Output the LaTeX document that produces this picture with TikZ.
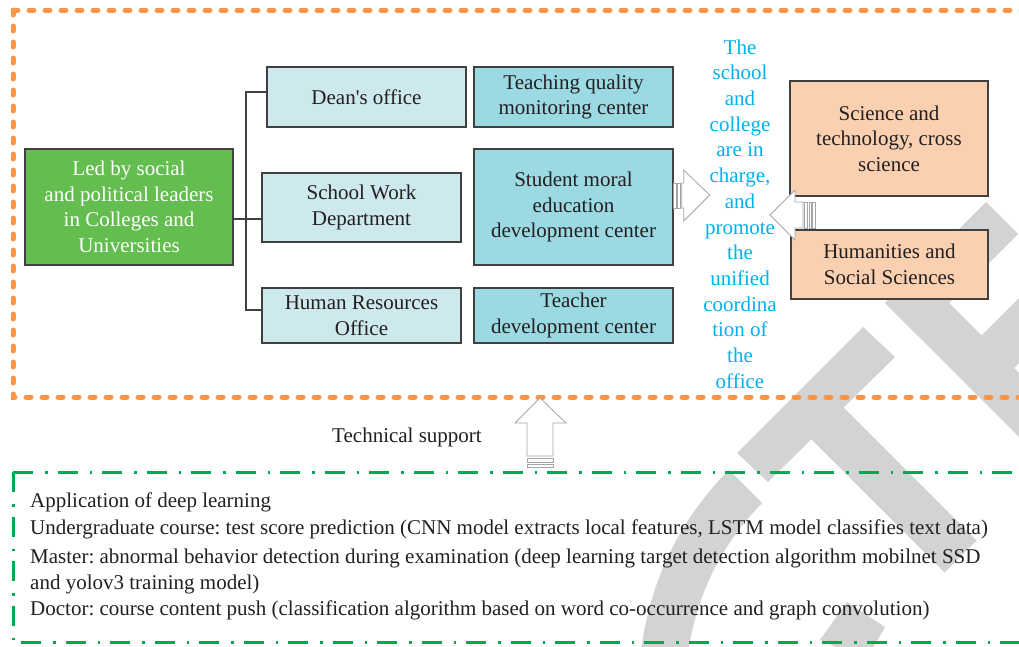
\documentclass[tikz,border=0pt]{standalone}
\usepackage{fontspec}
\setmainfont{Liberation Serif}
\newfontfamily\plainq{Liberation Serif}
\definecolor{orng}{RGB}{247,150,70}
\definecolor{grn}{RGB}{0,170,80}
\definecolor{gbox}{RGB}{99,189,79}
\definecolor{lcyan}{RGB}{205,233,238}
\definecolor{dcyan}{RGB}{155,217,227}
\definecolor{peach}{RGB}{251,208,176}
\definecolor{bluetxt}{RGB}{0,176,240}
\definecolor{txt}{RGB}{35,31,32}
\definecolor{bordc}{RGB}{64,64,64}
\definecolor{wm}{RGB}{211,211,211}
\definecolor{arrc}{RGB}{165,165,165}
\newcommand{\bxfont}{\fontsize{21}{25.5}\selectfont}
\frenchspacing
\begin{document}
\begin{tikzpicture}[x=1pt,y=-1pt,
  box/.style={draw=bordc, line width=1.4pt, align=center, inner sep=0pt, font=\bxfont, text=txt},
  conn/.style={draw=bordc, line width=1.3pt},
  harrow/.style={draw=arrc, fill=white, line width=0.8pt, line join=miter},
  plain/.style={font=\bxfont, text=txt, inner sep=0pt},
  gframe/.style={grn, line width=3pt, dash pattern=on 20pt off 12pt on 2.5pt off 10pt},
  oframe/.style={orng, line width=5pt, line cap=round, dash pattern=on 5pt off 11pt}]
\path[use as bounding box, clip] (0,0) rectangle (1019,646);
% watermark
\fill[wm] (946,687) ++(150:307) arc[start angle=150, end angle=225, radius=307] -- ++(45:47) arc[start angle=225, end angle=150, radius=260] -- cycle;
\fill[wm] (737,453) -- (863,327) -- (895,357) -- (768,482) -- cycle;
\fill[wm] (806,434) -- (838,402) -- (976.5,540.5) -- (944.5,572.5) -- cycle;
\fill[wm] (847,602) -- (885,627) -- (866,660) -- (820,640) -- cycle;
\fill[wm] (885,303) -- (986,202) -- (1018,234) -- (917,335) -- cycle;
\fill[wm] (885,303) -- (917,271) -- (1173,527) -- (1141,559) -- cycle;
\fill[wm] (950,367) -- (1043,274) -- (1076,306) -- (982,400) -- cycle;
% frames
\draw[oframe] (13,10) -- (13,397) -- (1040,397);
\draw[oframe] (13,10) -- (1040,10);
\draw[gframe] (13,472) -- (1040,472);
\draw[gframe] (13,472) -- (13,642) -- (1040,642);
% boxes
\node[box, fill=gbox, text=white, minimum width=208, minimum height=116] (lead) at (129,207) {Led by social\\and political leaders\\in Colleges and\\Universities};
\node[box, fill=lcyan, minimum width=199, minimum height=60] (dean) at (366.5,97) {Dean{\plainq '}s office};
\node[box, fill=lcyan, minimum width=199, minimum height=69] (school) at (361.5,207.5) {School Work\\Department};
\node[box, fill=lcyan, minimum width=199, minimum height=55] (hr) at (361.5,315.5) {Human Resources\\Office};
\node[box, fill=dcyan, minimum width=199, minimum height=60] (tq) at (573.5,97) {Teaching quality\\monitoring center};
\node[box, fill=dcyan, minimum width=199, minimum height=116] (smed) at (573.5,207) {Student moral\\education\\development center};
\node[box, fill=dcyan, minimum width=199, minimum height=55] (tdev) at (573.5,315.5) {Teacher\\development center};
\node[box, fill=peach, minimum width=198, minimum height=115] (sci) at (889,138.5) {Science and\\technology, cross\\science};
\node[box, fill=peach, minimum width=197, minimum height=69] (hum) at (889.5,264.5) {Humanities and\\Social Sciences};
\node[plain, text=bluetxt, align=center, font=\fontsize{21}{25.7}\selectfont] (note) at (740,214) {The\\school\\and\\college\\are in\\charge,\\and\\promote\\the\\unified\\coordina\\tion of\\the\\office};
% tree connectors
\coordinate (jt) at (246,92);
\coordinate (jm) at (246,219);
\coordinate (jb) at (246,310);
\draw[conn] (lead.east |- jm) -- (jm) -- (jm -| school.west);
\draw[conn] (jt -| dean.west) -- (jt) -- (jb) -- (jb -| hr.west);
% texts
\node[plain] (tech) at (407,437) {Technical support};
\node[plain, anchor=base west] (l1) at (30,507) {Application of deep learning};
\node[plain, anchor=base west] (l2) at (30,534) {Undergraduate course: test score prediction (CNN model extracts local features, LSTM model classifies text data)};
\node[plain, anchor=base west] (l3) at (30,563) {Master: abnormal behavior detection during examination (deep learning target detection algorithm mobilnet SSD};
\node[plain, anchor=base west] (l4) at (30,589) {and yolov3 training model)};
\node[plain, anchor=base west] (l5) at (30,615) {Doctor: course content push (classification algorithm based on word co-occurrence and graph convolution)};
% hollow block arrows
\draw[harrow] ([xshift=8pt]smed.east |- 0,183) -- ++(2,0) -- ++(0,-13) -- ++(26,25) -- ++(-26,26) -- ++(0,-13) -- ++(-2,0) -- cycle;
\draw[harrow] (673,183) rectangle (676,208);
\draw[harrow] (677.5,183) rectangle (680,208);
\draw[harrow] (803,202) -- (795,202) -- (795,190) -- (770,215) -- (795,240) -- (795,228) -- (803,228) -- cycle;
\draw[harrow] (804.5,202) rectangle (807.5,228);
\draw[harrow] (809,202) rectangle (811,228);
\draw[harrow] (812.5,202) rectangle (815,228);
\draw[harrow] (527,456) -- (527,423) -- (515,423) -- (540,398) -- (566,423) -- (553,423) -- (553,456) -- cycle;
\draw[harrow] (527,458) rectangle (553,462);
\draw[harrow] (527,464) rectangle (553,467);
\end{tikzpicture}
\end{document}
